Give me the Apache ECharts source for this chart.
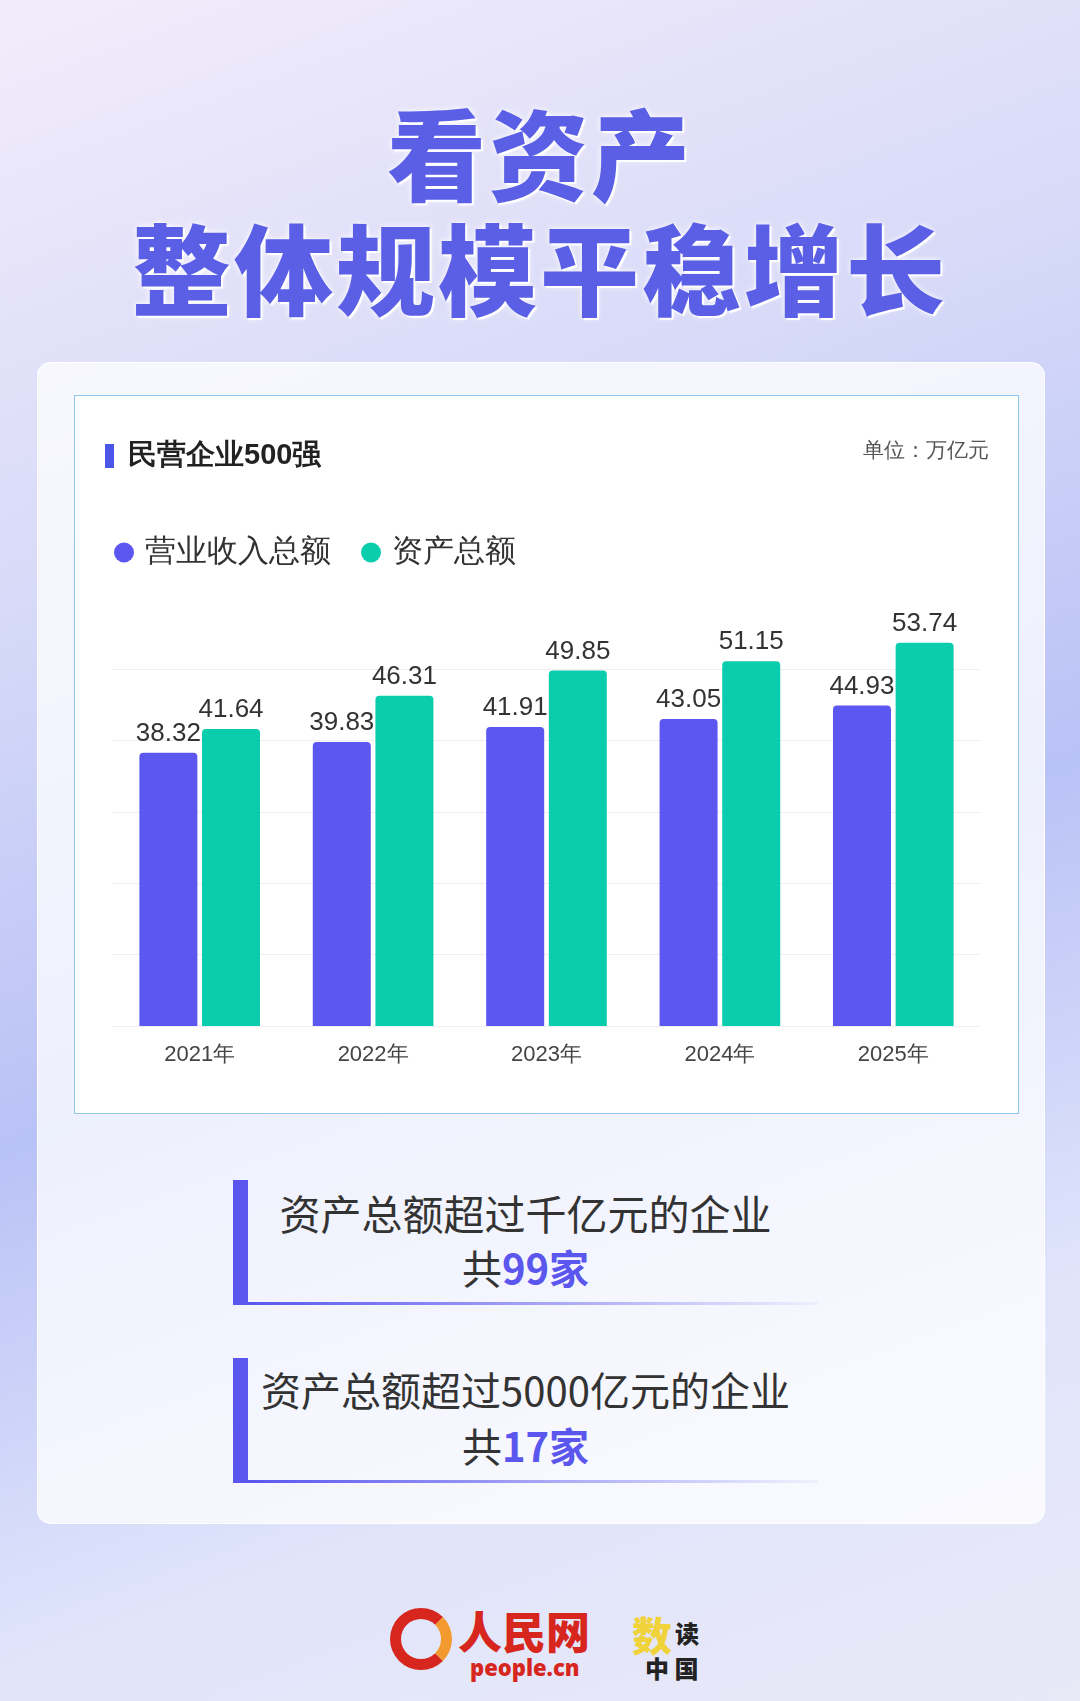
<!DOCTYPE html>
<html><head><meta charset="utf-8">
<script src="https://cdn.jsdelivr.net/npm/echarts@6/dist/echarts.min.js"></script>
<style>
body{margin:0;width:1080px;height:1701px;overflow:hidden;font-family:"Noto Sans CJK SC","Noto Sans",sans-serif;
background:linear-gradient(160deg,#f3ecfb 0%,#d6d9f8 30%,#b9c2f6 55%,#e1e5fb 80%,#e9e8f7 100%);position:relative}
.t{position:absolute;left:0;width:1080px;text-align:center;color:#5b5fe6;font-weight:900;font-size:99px;letter-spacing:3px;text-shadow:0 0 6px #fff,2px 2px 0 #fff}
#card{position:absolute;left:37px;top:362px;width:1006px;height:1160px;background:rgba(255,255,255,0.75);border-radius:14px;border:1px solid rgba(255,255,255,0.9)}
#chart{position:absolute;left:74px;top:395px;width:943px;height:717px;background:#fff;border:1px solid #8fc6ee}
.box{position:absolute;left:233px;width:585px;height:125px;border-left:15px solid #5a56ee}
.box:after{content:"";position:absolute;left:0;bottom:0;width:570px;height:3px;background:linear-gradient(90deg,#5a56ee,rgba(90,86,238,0.05))}
.box div{position:absolute;width:585px;left:-15px;text-align:center;font-size:40px;color:#333;white-space:nowrap}
.box b{color:#5a56ee;font-weight:700}
.logo{position:absolute;top:1595px;font-weight:900}
</style></head><body>
<div class="t" style="top:78px">看资产</div>
<div class="t" style="top:193px">整体规模平稳增长</div>
<div id="card"></div>
<div id="chart"></div>
<div class="box" style="top:1180px"><div style="top:2px;font-size:41px">资产总额超过千亿元的企业</div><div style="top:58px">共<b>99家</b></div></div>
<div class="box" style="top:1358px"><div style="top:2px;font-size:40px">资产总额超过5000亿元的企业</div><div style="top:58px">共<b>17家</b></div></div>
<div class="logo" style="left:390px;top:1608px;width:62px;height:62px;border-radius:50%;border:11px solid #d7261e;border-right-color:#f29a2e;box-sizing:border-box"></div>
<div class="logo" style="left:458px;top:1598px;font-size:44px;color:#d7261e;font-family:'Noto Sans CJK SC'">人民网</div>
<div class="logo" style="left:470px;top:1652px;font-size:22px;color:#d7261e;font-family:'Noto Sans'">people.cn</div>
<div class="logo" style="left:632px;top:1605px;font-size:40px;color:#f0d23a">数</div>
<div class="logo" style="left:675px;top:1615px;font-size:24px;color:#222">读</div>
<div class="logo" style="left:645px;top:1650px;font-size:24px;color:#222">中 国</div>
<script>
var years = ['2021年','2022年','2023年','2024年','2025年'];
var revenue = [38.32,39.83,41.91,43.05,44.93];
var assets = [41.64,46.31,49.85,51.15,53.74];

var myChart = echarts.init(document.getElementById('chart'));
var lbl = {show:true,position:'top',fontSize:26,color:'#333',distance:6};
myChart.setOption({
  title:[
    {text:'民营企业500强',left:48,top:40,textStyle:{fontSize:29,fontWeight:'bold',color:'#222'}},
    {text:'单位：万亿元',right:24,top:40,textStyle:{fontSize:21,fontWeight:'normal',color:'#555'}}
  ],
  graphic:[{type:'rect',left:30,top:48,shape:{width:9,height:24},style:{fill:'#4b55e8'}}],
  legend:{left:34,top:136,icon:'circle',itemWidth:20,itemHeight:20,itemGap:30,
    textStyle:{fontSize:31,color:'#333',padding:[0,0,0,6]}},
  grid:{left:38,width:867,top:202,bottom:87},
  xAxis:{type:'category',data:years,axisLine:{show:false},axisTick:{show:false},
    axisLabel:{fontSize:22,color:'#444',margin:18}},
  yAxis:{type:'value',min:0,max:60,interval:10,axisLabel:{show:false},
    splitLine:{showMaxLine:false,lineStyle:{color:'#eee'}}},
  series:[
    {name:'营业收入总额',type:'bar',data:revenue,barWidth:58,barGap:'8%',
      itemStyle:{color:'#5b57f0',borderRadius:[4,4,0,0]},label:lbl},
    {name:'资产总额',type:'bar',data:assets,barWidth:58,
      itemStyle:{color:'#0acdae',borderRadius:[4,4,0,0]},label:lbl}
  ]
});
</script>
</body></html>
